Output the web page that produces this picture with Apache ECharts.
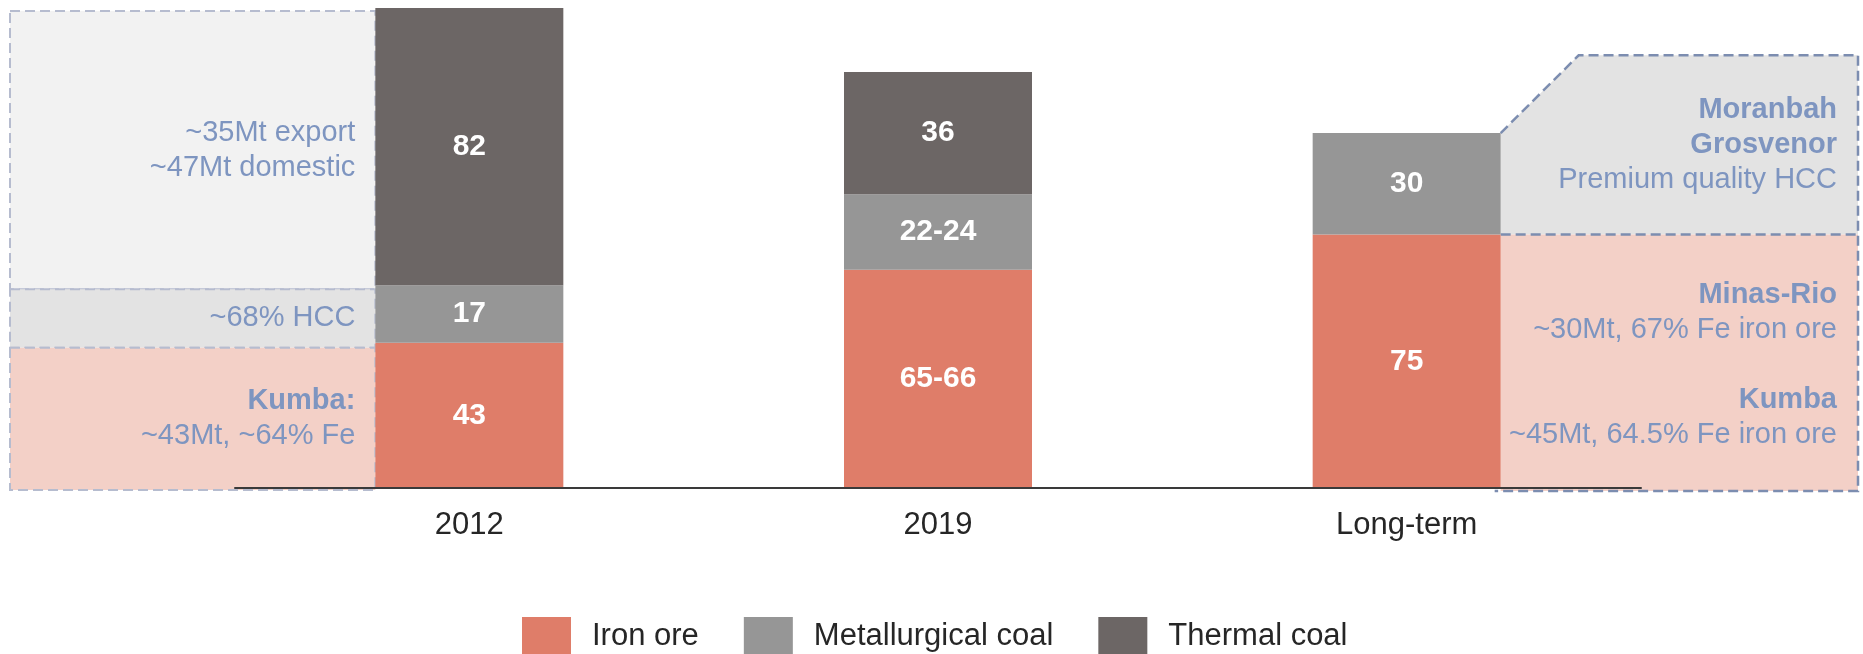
<!DOCTYPE html>
<html>
<head>
<meta charset="utf-8">
<script src="https://cdn.jsdelivr.net/npm/echarts@6/dist/echarts.min.js"></script>
<style>
html, body { margin: 0; padding: 0; background: #fff; }
#chart { width: 1863px; height: 654px; }
</style>
</head>
<body>
<div id="chart"></div>
<script>
// data
var categories = ['2012', '2019', 'Long-term'];
var ironOre = [43, 64.6, 75];
var metCoal = [17, 22.3, 30];
var thermalCoal = [82, 36.2, null];
var ironOreLabels = ['43', '65-66', '75'];
var metCoalLabels = ['17', '22-24', '30'];
var thermalCoalLabels = ['82', '36', ''];
var seriesNames = ['Iron ore', 'Metallurgical coal', 'Thermal coal'];
var rightBoxTop = 128; // top of the long-term callout, in Mt

var FONT = "'Liberation Sans', Arial, sans-serif";
var NOTE = '#7e95c0';
var barWidth = 188;

var chart = echarts.init(document.getElementById('chart'));

function barSeries(name, data, labels, color) {
	return {
		name : name,
		type : 'bar',
		stack : 'total',
		barWidth : barWidth,
		data : data,
		itemStyle : { color : color },
		z : 5,
		label : {
			show : true,
			position : 'inside',
			color : '#fff',
			fontWeight : 'bold',
			fontSize : 30,
			fontFamily : FONT,
			formatter : function(p) {
				return labels[p.dataIndex];
			}
		}
	};
}

var option = {
	animation : false,
	grid : { left : 235, right : 222, top : 8, bottom : 166 },
	legend : {
		left : 517,
		top : 612,
		itemWidth : 49,
		itemHeight : 39,
		itemGap : 45,
		icon : 'rect',
		textStyle : { fontSize : 31, color : '#262626', fontFamily : FONT, padding : [0, 0, 0, 16] },
		data : seriesNames
	},
	xAxis : {
		type : 'category',
		data : categories,
		z : 20,
		axisLine : { lineStyle : { color : '#3a3a3a', width : 2 } },
		axisTick : { show : false },
		axisLabel : { fontSize : 31, color : '#262626', fontFamily : FONT, margin : 22 }
	},
	yAxis : {
		type : 'value',
		min : 0,
		max : 142,
		show : false
	},
	series : [
		barSeries(seriesNames[0], ironOre, ironOreLabels, '#df7d69'),
		barSeries(seriesNames[1], metCoal, metCoalLabels, '#969696'),
		barSeries(seriesNames[2], thermalCoal, thermalCoalLabels, '#6c6665')
	]
};
chart.setOption(option);

// callout boxes placed from the axis scales
function px(i, v) {
	return chart.convertToPixel({ xAxisIndex : 0, yAxisIndex : 0 }, [i, v]);
}
function yOf(v) { return px(0, v)[1]; }

var leftEdge = 10, rightEdge = 1858;
var l0 = px(0, 0)[0] - barWidth / 2;
var r2 = px(2, 0)[0] + barWidth / 2;
var lightDash = { stroke : '#b6bccf', lineWidth : 2, lineDash : [10, 5] };
var darkDash = { stroke : '#7c8db0', lineWidth : 2.5, lineDash : [10, 5] };

function box(x1, y1, x2, y2, fill, stroke) {
	return {
		type : 'rect',
		z : 1,
		shape : { x : x1, y : y1, width : x2 - x1, height : y2 - y1 },
		style : Object.assign({ fill : fill }, stroke || {})
	};
}
function note(x, y, text) {
	return {
		type : 'text',
		z : 10,
		x : x,
		y : y,
		style : {
			text : text,
			align : 'right',
			verticalAlign : 'middle',
			fontFamily : FONT,
			fontSize : 29,
			lineHeight : 35,
			fill : NOTE,
			rich : {
				b : { fontWeight : 'bold', fontSize : 29, lineHeight : 35, fill : NOTE, fontFamily : FONT },
				n : { fontSize : 29, lineHeight : 35, fill : NOTE, fontFamily : FONT }
			}
		}
	};
}

var s0 = ironOre[0], s1 = ironOre[0] + metCoal[0], s2 = s1 + thermalCoal[0];
var yTop = yOf(s2) + 3, yMid1 = yOf(s1) + 4, yMid0 = yOf(s0) + 5, yBot = yOf(0) + 2;

var r0 = ironOre[2], r1 = ironOre[2] + metCoal[2];
var ry0 = yOf(r0), ry1 = yOf(r1), ryTop = yOf(rightBoxTop), ryBot = yOf(0) + 3;
var diagX = r2 + 78;

var graphics = [
	box(leftEdge, yTop, l0, yMid1, '#f2f2f2', lightDash),
	box(leftEdge, yMid1, l0, yMid0, '#e3e3e3', lightDash),
	box(leftEdge, yMid0, l0, yBot, '#f3d0c7', lightDash),
	{
		type : 'polygon', z : 1,
		shape : { points : [[r2, ry1], [diagX, ryTop], [rightEdge, ryTop], [rightEdge, ry0], [r2, ry0]] },
		style : { fill : '#e3e3e3' }
	},
	box(r2, ry0, rightEdge, ryBot, '#f3d0c7'),
	{
		type : 'polyline', z : 3,
		shape : { points : [[r2, ry1], [diagX, ryTop], [rightEdge, ryTop], [rightEdge, ryBot], [r2 - 6, ryBot]] },
		style : Object.assign({ fill : null }, darkDash)
	},
	{
		type : 'line', z : 3,
		shape : { x1 : r2, y1 : ry0, x2 : rightEdge, y2 : ry0 },
		style : darkDash
	},
	note(l0 - 20, (yTop + yMid1) / 2, '{n|~35Mt export}\n{n|~47Mt domestic}'),
	note(l0 - 20, (yMid1 + yMid0) / 2, '{n|~68% HCC}'),
	note(l0 - 20, (yMid0 + yBot) / 2, '{b|Kumba:}\n{n|~43Mt, ~64% Fe}'),
	note(rightEdge - 21, (ryTop + ry0) / 2, '{b|Moranbah}\n{b|Grosvenor}\n{n|Premium quality HCC}'),
	note(rightEdge - 21, (ry0 + ryBot) / 2 + 2, '{b|Minas-Rio}\n{n|~30Mt, 67% Fe iron ore}\n{n| }\n{b|Kumba}\n{n|~45Mt, 64.5% Fe iron ore}')
];
chart.setOption({ graphic : graphics });
window.addEventListener('resize', chart.resize);
</script>
</body>
</html>
